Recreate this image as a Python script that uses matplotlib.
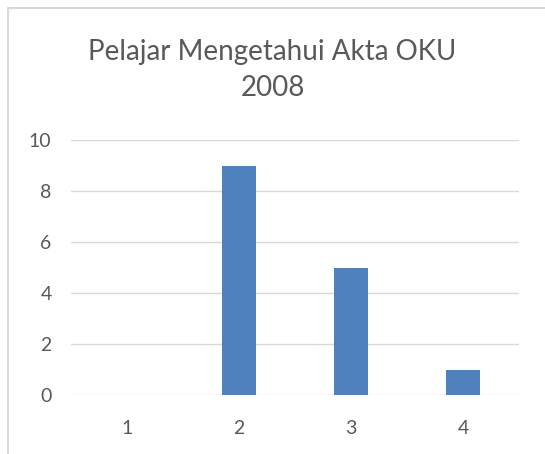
import matplotlib.pyplot as plt
from matplotlib.patches import Rectangle

categories = ["1", "2", "3", "4"]
values = [0, 9, 5, 1]
title_lines = ["Pelajar Mengetahui Akta OKU", "2008"]

plt.rcParams["font.family"] = ["Lato", "DejaVu Sans"]

fig = plt.figure(figsize=(5.45, 4.54), dpi=100)
fig.patches.append(Rectangle((8 / 545, -0.1), 1.2, 1 - 8 / 454 + 0.1,
                             transform=fig.transFigure, fill=False,
                             edgecolor="#d9d9d9", linewidth=1.5))

ax = fig.add_axes([71 / 545, 1 - 395 / 454, 448 / 545, 255 / 454])
x = range(len(categories))
ax.bar(x, values, width=0.31, color="#4f81bd", zorder=3)

ax.set_xlim(-0.5, 3.5)
ax.set_ylim(0, 10)
ax.set_yticks(range(0, 11, 2))
ax.set_xticks(list(x))
ax.set_xticklabels(categories)
ax.grid(axis="y", color="#d9d9d9", linewidth=1)
for s in ax.spines.values():
    s.set_visible(False)
ax.tick_params(length=0, labelsize=14, colors="#595959")
ax.tick_params(axis="x", pad=18)
ax.tick_params(axis="y", pad=14)

# title, one line per text so each baseline sits where Excel put it
for line, ypx in zip(title_lines, [60, 96]):
    fig.text(0.5, 1 - ypx / 454, line, ha="center", va="baseline",
             fontsize=20, color="#595959")

fig.savefig("out.png", dpi=100)
